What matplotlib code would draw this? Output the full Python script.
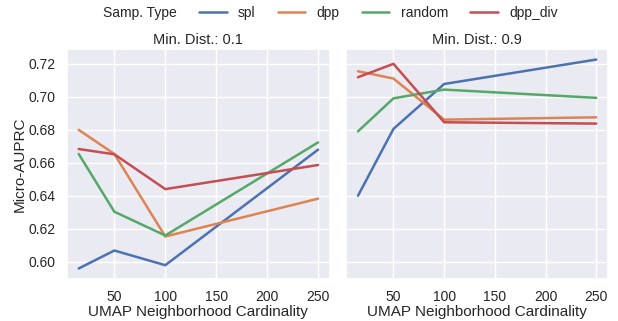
import matplotlib
matplotlib.use("Agg")
import matplotlib.pyplot as plt
import seaborn as sns
from matplotlib.lines import Line2D

# UMAP neighborhood sizes on the x axis
n_neighbors = [15, 50, 100, 250]
samp_types = ["spl", "dpp", "random", "dpp_div"]

# Micro-AUPRC, min_dist = 0.1
md01_spl = [0.5958, 0.6067, 0.5978, 0.6678]
md01_dpp = [0.6798, 0.6652, 0.6152, 0.6381]
md01_random = [0.6652, 0.6302, 0.6158, 0.6722]
md01_dpp_div = [0.6682, 0.6650, 0.6439, 0.6585]

# Micro-AUPRC, min_dist = 0.9
md09_spl = [0.6399, 0.6804, 0.7076, 0.7224]
md09_dpp = [0.7153, 0.7109, 0.6860, 0.6874]
md09_random = [0.6789, 0.6989, 0.7042, 0.6992]
md09_dpp_div = [0.7117, 0.7198, 0.6844, 0.6836]

panels = [
    ("Min. Dist.: 0.1", [md01_spl, md01_dpp, md01_random, md01_dpp_div]),
    ("Min. Dist.: 0.9", [md09_spl, md09_dpp, md09_random, md09_dpp_div]),
]

sns.set_theme(style="darkgrid")
plt.rcParams["font.family"] = ["Liberation Sans", "DejaVu Sans"]
colors = sns.color_palette("deep")[:4]

fig = plt.figure(figsize=(6.18, 3.21), dpi=100)
ax1 = fig.add_axes([0.108, 0.131, 0.426, 0.716])
ax2 = fig.add_axes([0.560, 0.131, 0.424, 0.716], sharey=ax1)

for ax, (title, series) in zip([ax1, ax2], panels):
    for vals, c in zip(series, colors):
        ax.plot(n_neighbors, vals, color=c, linewidth=1.8)
    ax.set_title(title, fontsize=10.5, pad=4)
    ax.set_xlabel("UMAP Neighborhood Cardinality", fontsize=11, labelpad=1)
    ax.set_xticks([50, 100, 150, 200, 250])
    ax.tick_params(labelsize=10, pad=2)

ax1.set_ylabel("Micro-AUPRC", fontsize=11, labelpad=1)
ax1.set_yticks([0.60, 0.62, 0.64, 0.66, 0.68, 0.70, 0.72])
ax1.yaxis.set_major_formatter(matplotlib.ticker.FormatStrFormatter("%.2f"))
ax2.tick_params(labelleft=False)

handles = [Line2D([], [], alpha=0)] + [Line2D([], [], color=c, linewidth=1.8) for c in colors]
labels = ["Samp. Type"] + samp_types
fig.legend(handles, labels, loc="upper center", bbox_to_anchor=(0.503, 1.02), ncol=5,
           frameon=False, fontsize=10, handlelength=2.0, columnspacing=1.6)

fig.savefig("out.png", dpi=100)
